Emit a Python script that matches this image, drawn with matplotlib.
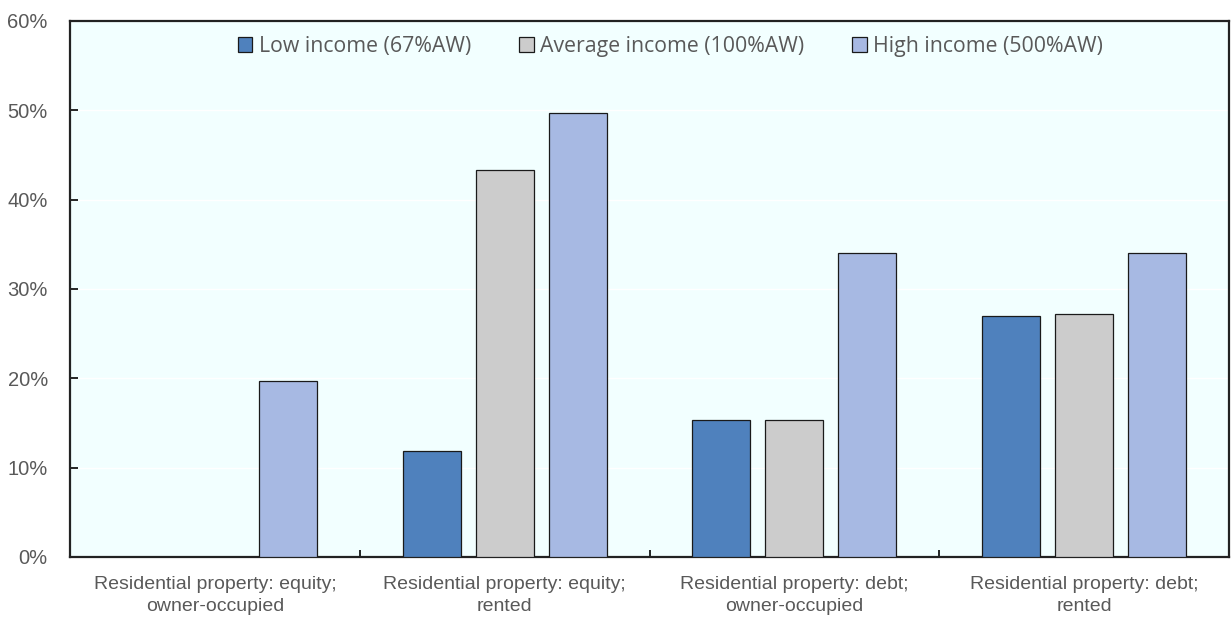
import matplotlib
matplotlib.use("Agg")
import matplotlib.pyplot as plt
import numpy as np
from matplotlib.patches import Patch
from matplotlib.ticker import FuncFormatter, MultipleLocator

categories = ["Residential property: equity;\nowner-occupied",
              "Residential property: equity;\nrented",
              "Residential property: debt;\nowner-occupied",
              "Residential property: debt;\nrented"]
series_names = ["Low income (67%AW)", "Average income (100%AW)", "High income (500%AW)"]
low_income = [0.0, 11.9, 15.3, 27.0]
avg_income = [0.0, 43.3, 15.3, 27.2]
high_income = [19.7, 49.7, 34.0, 34.0]
colors = ["#4F81BD", "#CCCCCC", "#A7B9E3"]

sans = ["Liberation Sans", "DejaVu Sans"]
grey = "#595959"

fig = plt.figure(figsize=(12.32, 6.2), dpi=100)
ax = fig.add_axes([70/1232, 1-557/620, (1229-70)/1232, (557-21)/620])
ax.set_facecolor("#F2FFFF")

x = np.arange(len(categories))
w = 0.2
off = 0.252
for i, (vals, c) in enumerate(zip([low_income, avg_income, high_income], colors)):
    xs, vs = [], []
    for xi, v in zip(x, vals):
        if v > 0:
            xs.append(xi + (i - 1) * off)
            vs.append(v)
    ax.bar(xs, vs, width=w, color=c, edgecolor="#1a1a1a", linewidth=0.9, zorder=3)

ax.set_xlim(-0.5, 3.5)
ax.set_ylim(0, 60)
ax.yaxis.set_major_locator(MultipleLocator(10))
ax.yaxis.set_major_formatter(FuncFormatter(lambda v, p: f"{v:.0f}%"))
ax.grid(axis="y", color="white", linewidth=1.0, zorder=0)
ax.set_axisbelow(True)

ax.set_xticks([0.5, 1.5, 2.5])
ax.set_xticklabels([])
ax.tick_params(axis="x", direction="in", length=5, width=1.2, color="black")
ax.tick_params(axis="y", direction="in", length=6, width=1.2, color="black",
               labelsize=14.5, labelcolor=grey, pad=16)
for lab in ax.get_yticklabels():
    lab.set_family(sans)

for xi, cat in zip(x, categories):
    ax.text(xi, -2.15, cat, ha="center", va="top", fontsize=14, color=grey,
            family=sans, linespacing=1.4, transform=ax.transData)

for s in ax.spines.values():
    s.set_color("#222222")
    s.set_linewidth(1.6)

handles = [Patch(facecolor=c, edgecolor="#1a1a1a", linewidth=0.9) for c in colors]
leg = ax.legend(handles, series_names, loc="center", bbox_to_anchor=(0.518, 0.952),
                ncol=3, frameon=False, handlelength=0.7, handleheight=0.7,
                handletextpad=0.3, columnspacing=2.25,
                prop={"family": ["Open Sans", "DejaVu Sans"], "size": 15.3})
for t in leg.get_texts():
    t.set_color(grey)

fig.savefig("out.png", dpi=100)
